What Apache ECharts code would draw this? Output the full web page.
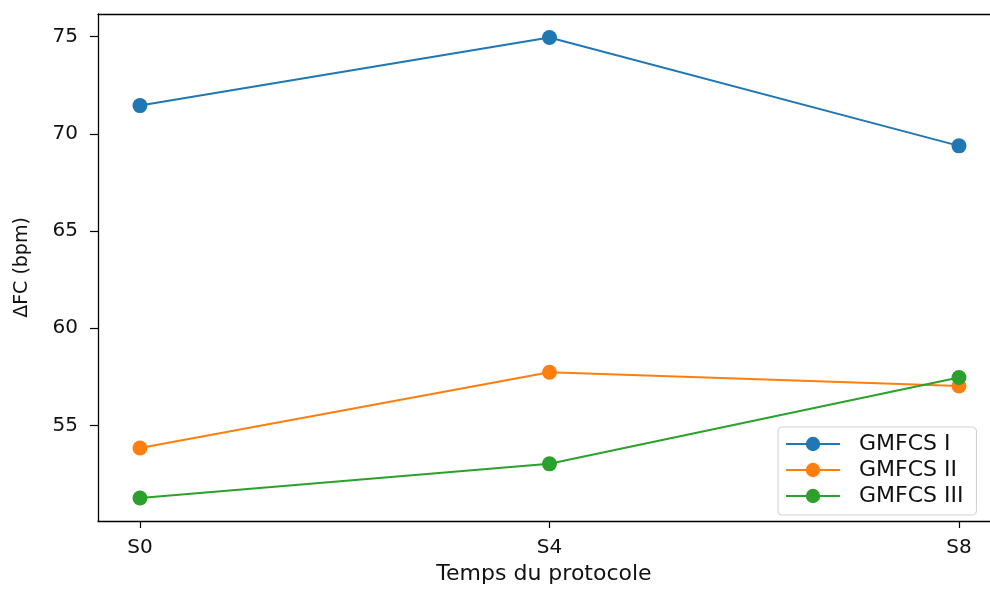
<!DOCTYPE html>
<html>
<head>
<meta charset="utf-8">
<script src="https://cdn.jsdelivr.net/npm/echarts@6/dist/echarts.min.js"></script>
<style>html,body{margin:0;padding:0;background:#fff;overflow:hidden}#c{width:990px;height:590px}</style>
</head>
<body>
<div id="c"></div>
<script>
const categories = ['S0', 'S4', 'S8'];
const categoryPos = [0, 4, 8];
const seriesNames = ['GMFCS I', 'GMFCS II', 'GMFCS III'];
const gmfcs1 = [71.45, 74.95, 69.38];
const gmfcs2 = [53.84, 57.74, 57.03];
const gmfcs3 = [51.27, 53.03, 57.47];
const yTicks = [55, 60, 65, 70, 75];
const colors = ['#1f77b4', '#ff7f0e', '#2ca02c'];

const allVals = [gmfcs1, gmfcs2, gmfcs3];
const chart = echarts.init(document.getElementById('c'), null, {renderer: 'canvas', width: 990, height: 590});
const font = 'DejaVu Sans';
const xMin = -0.41, xMax = 8.303;
chart.setOption({
  animation: false,
  grid: {left: 98, top: 14, width: 892, height: 515, containLabel: false},
  xAxis: [{
    type: 'value', min: xMin, max: xMax,
    name: 'Temps du protocole', nameLocation: 'middle', nameGap: 42,
    nameTextStyle: {fontFamily: font, fontSize: 22, color: '#111'},
    splitLine: {show: false},
    axisLine: {show: true, onZero: false, lineStyle: {color: '#000', width: 1.3}},
    axisTick: {show: true, customValues: categoryPos, length: 7, lineStyle: {color: '#000', width: 1.2}},
    axisLabel: {customValues: categoryPos, formatter: v => categories[categoryPos.indexOf(v)] || '',
      fontFamily: font, fontSize: 20, color: '#111', margin: 17}
  }, {
    type: 'value', position: 'top', min: xMin, max: xMax,
    splitLine: {show: false},
    axisLine: {show: true, onZero: false, lineStyle: {color: '#000', width: 1.3}},
    axisTick: {show: false}, axisLabel: {show: false}
  }],
  yAxis: {
    type: 'value', min: 50.09, max: 76.16,
    name: 'ΔFC (bpm)', nameLocation: 'middle', nameGap: 66, nameRotate: 90,
    nameTextStyle: {fontFamily: font, fontSize: 19, color: '#111'},
    splitLine: {show: false},
    axisLine: {show: true, onZero: false, lineStyle: {color: '#000', width: 1.3}},
    axisTick: {show: true, customValues: yTicks, length: 8, lineStyle: {color: '#000', width: 1.2}},
    axisLabel: {customValues: yTicks, fontFamily: font, fontSize: 20, color: '#111', margin: 20}
  },
  legend: {
    left: 778, top: 427, orient: 'vertical',
    itemWidth: 54, itemHeight: 18, itemGap: 4,
    padding: [6, 13, 8, 7],
    backgroundColor: 'rgba(255,255,255,0.85)', borderColor: '#d0d0d0', borderWidth: 1, borderRadius: 4,
    textStyle: {fontFamily: font, fontSize: 22, color: '#111', padding: [0, 0, 0, 14], width: 117},
    data: seriesNames
  },
  series: seriesNames.map((n, i) => ({
    name: n, type: 'line',
    data: categoryPos.map((x, j) => [x, allVals[i][j]]),
    symbol: 'circle', symbolSize: 15,
    lineStyle: {width: 2, color: colors[i]},
    itemStyle: {color: colors[i]}
  }))
});
</script>
</body>
</html>
